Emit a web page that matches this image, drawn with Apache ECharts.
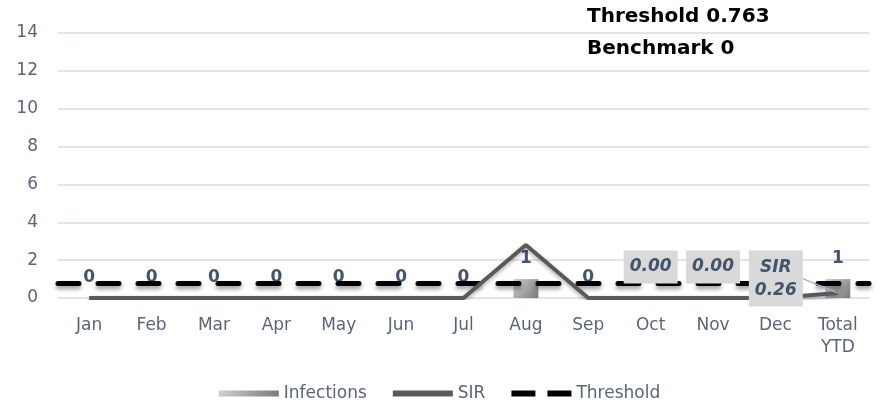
<!DOCTYPE html>
<html>
<head>
<meta charset="utf-8">
<script src="https://cdn.jsdelivr.net/npm/echarts@6/dist/echarts.min.js"></script>
<style>
  html, body { margin:0; padding:0; background:#fff; }
  #chart { width:879px; height:413px; }
</style>
</head>
<body>
<div id="chart"></div>
<script>
// chart values
var months = ['Jan','Feb','Mar','Apr','May','Jun','Jul','Aug','Sep','Oct','Nov','Dec','Total\nYTD'];
var infections = [0,0,0,0,0,0,0,1,0,0,0,0,1];
var sir = [0,0,0,0,0,0,0,2.8,0,0,0,0,0.26];
var thresholdValue = 0.763;
var benchmarkValue = 0;
var sirLabelIndex = [9,10,12];
var yTicks = { min:0, max:14, step:2 };

var fontName = 'DejaVu Sans';
var labelColor = '#5b6577';
var valueColor = '#44546a';
var totalIndex = sir.length - 1;

let drawCharts = echarts.init(document.getElementById('chart'));

var sirData = sir.map(function(v, i){
  var item = { value: v };
  if (sirLabelIndex.indexOf(i) > -1) {
    item.label = { show: true };
    if (i === totalIndex) {
      // total label is pushed left, with a guide line back to the point
      item.label.formatter = 'SIR\n{c}';
      item.labelLine = { show: true, lineStyle:{ color:'#9fb4cc', width:1.5 } };
    }
  }
  return item;
});

option = {
  animation:false,
  textStyle:{ fontFamily:fontName },
  grid:{ left:58, right:10, top:33, bottom:115 },
  graphic:[
    { type:'text', left:587, top:7,
      style:{ text:'Threshold ' + thresholdValue, font:'bold 20px "DejaVu Sans"', fill:'#000' } },
    { type:'text', left:587, top:39,
      style:{ text:'Benchmark ' + benchmarkValue, font:'bold 20px "DejaVu Sans"', fill:'#000' } }
  ],
  legend:{
    bottom:6,
    left:'center',
    itemWidth:60,
    itemHeight:6,
    itemGap:26,
    textStyle:{ fontSize:17, color:labelColor, fontFamily:fontName },
    data:[
      { name:'Infections', icon:'rect' },
      { name:'SIR', icon:'path://M0,0H60V6H0Z', itemStyle:{ color:'#595959' } },
      { name:'Threshold', icon:'path://M0,0H24V6H0Z M36,0H60V6H36Z', itemStyle:{ color:'#000' } }
    ]
  },
  xAxis:{
    type:'category',
    data:months,
    axisTick:{ show:false },
    axisLine:{ lineStyle:{ color:'#e1e4ec', width:2 } },
    axisLabel:{ fontSize:17, color:labelColor, margin:17, lineHeight:22 }
  },
  yAxis:{
    type:'value',
    min:yTicks.min,
    max:yTicks.max,
    interval:yTicks.step,
    axisLabel:{ fontSize:17, color:labelColor, margin:20 },
    splitLine:{ lineStyle:{ color:'#e1e4ec', width:2 } }
  },
  series:[
    {
      name:'Infections',
      type:'bar',
      barWidth:25,
      data:infections,
      itemStyle:{
        color: new echarts.graphic.LinearGradient(0,0,1,1,[
          { offset:0, color:'#d0d0d0' },
          { offset:1, color:'#7a7a7a' }
        ])
      },
      label:{
        show:true,
        position:'top',
        distance:12,
        fontSize:17,
        fontWeight:'bold',
        color:valueColor
      }
    },
    {
      name:'Threshold',
      type:'line',
      data:[],
      symbol:'none',
      z:4,
      lineStyle:{ color:'#000', width:5, type:[21,19] },
      itemStyle:{ color:'#000' },
      markLine:{
        silent:true,
        symbol:'none',
        label:{ show:false },
        lineStyle:{
          color:'#000', width:5, type:[21,19], cap:'round',
          shadowColor:'rgba(0,0,0,0.4)', shadowBlur:4, shadowOffsetY:3
        },
        data:[{ yAxis:thresholdValue }]
      }
    },
    {
      name:'SIR',
      type:'line',
      data:sirData,
      symbol:'circle',
      symbolSize:1,
      showSymbol:true,
      z:6,
      lineStyle:{
        color:'#595959', width:4,
        shadowColor:'rgba(0,0,0,0.35)', shadowBlur:4, shadowOffsetY:2
      },
      itemStyle:{ color:'rgba(0,0,0,0)' },
      label:{
        show:false,
        position:'top',
        distance:14,
        formatter:function(p){ return p.value.toFixed(2); },
        fontSize:17,
        fontWeight:'bold',
        fontStyle:'italic',
        color:valueColor,
        backgroundColor:'#d9d9d9',
        padding:[5,6,5,6],
        lineHeight:23
      },
      labelLayout:function(params){
        if (params.dataIndex === totalIndex) {
          return { dx:-62, dy:28 };
        }
      },
      labelLine:{ show:false }
    }
  ]
};
drawCharts.setOption(option);
</script>
</body>
</html>
